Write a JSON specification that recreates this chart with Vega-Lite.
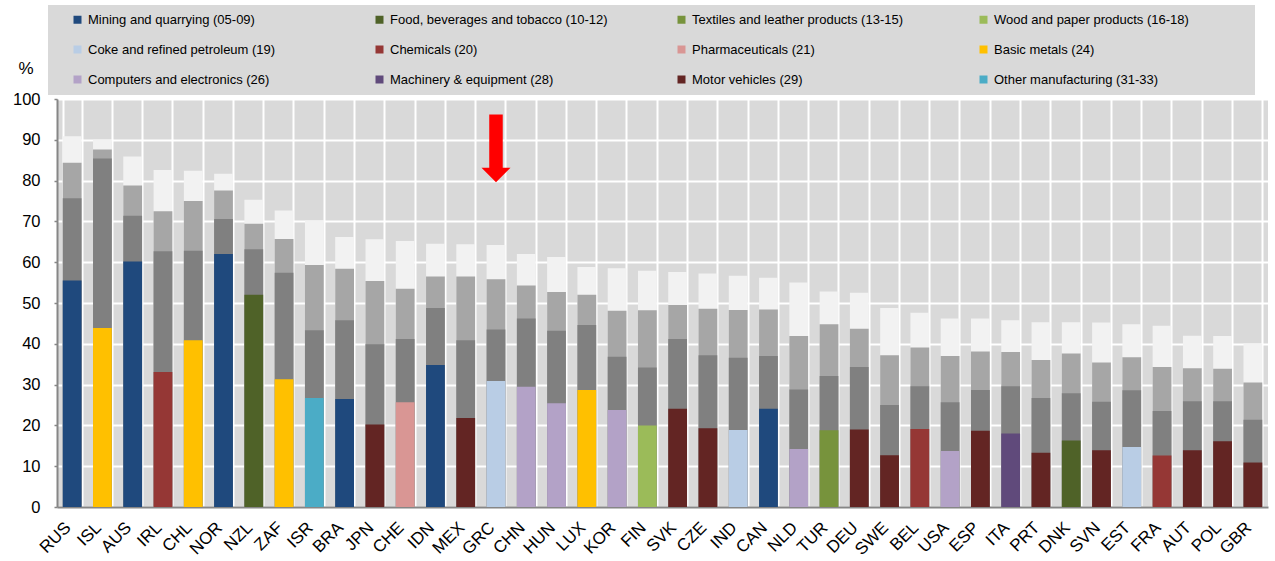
{
  "$schema": "https://vega.github.io/schema/vega-lite/v6.json",
  "width": 1211,
  "height": 408,
  "autosize": {"type": "none"},
  "padding": {"left": 57, "right": 7, "top": 99, "bottom": 54},
  "background": "white",
  "config": {
    "font": "Liberation Sans",
    "view": {"fill": "#D9D9D9", "stroke": null},
    "axisX": {
      "domainColor": "#868686", "domainWidth": 2, "ticks": false,
      "labelAngle": -45, "labelFontSize": 17, "labelColor": "#000000", "labelPadding": 12, "labelOffset": -10,
      "grid": true, "gridColor": "#FFFFFF", "gridWidth": 2, "tickBand": "extent", "title": null
    },
    "axisY": {
      "domainColor": "#868686", "domainWidth": 2, "tickColor": "#868686", "tickSize": 3, "tickWidth": 1.5,
      "labelFontSize": 16.5, "labelColor": "#000000", "labelPadding": 14, "tickCount": 10,
      "grid": true, "gridColor": "#FFFFFF", "gridWidth": 2,
      "titleAngle": 0, "titleX": -31.5, "titleY": -30.5, "titleFontSize": 17,
      "titleFontWeight": "normal", "titleAlign": "center", "titleBaseline": "middle", "titleColor": "#000000"
    },
    "legend": {
      "orient": "none", "legendX": -9, "legendY": -94, "columns": 4, "direction": "horizontal", "gridAlign": "all",
      "columnPadding": 52, "rowPadding": 16, "symbolType": "square", "symbolSize": 64,
      "symbolOffset": 15, "symbolStrokeWidth": 0, "labelFontSize": 13, "labelColor": "#000000",
      "labelOffset": 4, "labelLimit": 400, "padding": 8, "fillColor": "#D9D9D9",
      "titleOrient": "right", "titlePadding": 58, "titleFontSize": 13
    }
  },
  "data": {"values": [
    {"c": "RUS", "s": "Mining and quarrying (05-09)", "t1": 55.5, "t2": 75.7, "t3": 84.4, "t4": 90.9},
    {"c": "ISL", "s": "Basic metals (24)", "t1": 43.9, "t2": 85.4, "t3": 87.6, "t4": 90.0},
    {"c": "AUS", "s": "Mining and quarrying (05-09)", "t1": 60.2, "t2": 71.4, "t3": 78.8, "t4": 85.9},
    {"c": "IRL", "s": "Chemicals (20)", "t1": 33.1, "t2": 62.7, "t3": 72.5, "t4": 82.6},
    {"c": "CHL", "s": "Basic metals (24)", "t1": 40.9, "t2": 62.8, "t3": 75.0, "t4": 82.4},
    {"c": "NOR", "s": "Mining and quarrying (05-09)", "t1": 62.0, "t2": 70.6, "t3": 77.6, "t4": 81.7},
    {"c": "NZL", "s": "Food, beverages and tobacco (10-12)", "t1": 52.0, "t2": 63.2, "t3": 69.4, "t4": 75.3},
    {"c": "ZAF", "s": "Basic metals (24)", "t1": 31.3, "t2": 57.4, "t3": 65.7, "t4": 72.7},
    {"c": "ISR", "s": "Other manufacturing (31-33)", "t1": 26.7, "t2": 43.3, "t3": 59.3, "t4": 70.2},
    {"c": "BRA", "s": "Mining and quarrying (05-09)", "t1": 26.5, "t2": 45.8, "t3": 58.4, "t4": 66.2},
    {"c": "JPN", "s": "Motor vehicles (29)", "t1": 20.2, "t2": 39.9, "t3": 55.4, "t4": 65.6},
    {"c": "CHE", "s": "Pharmaceuticals (21)", "t1": 25.7, "t2": 41.2, "t3": 53.5, "t4": 65.2},
    {"c": "IDN", "s": "Mining and quarrying (05-09)", "t1": 34.8, "t2": 48.8, "t3": 56.5, "t4": 64.5},
    {"c": "MEX", "s": "Motor vehicles (29)", "t1": 21.8, "t2": 40.9, "t3": 56.5, "t4": 64.4},
    {"c": "GRC", "s": "Coke and refined petroleum (19)", "t1": 30.9, "t2": 43.5, "t3": 55.8, "t4": 64.2},
    {"c": "CHN", "s": "Computers and electronics (26)", "t1": 29.5, "t2": 46.2, "t3": 54.3, "t4": 62.0},
    {"c": "HUN", "s": "Computers and electronics (26)", "t1": 25.4, "t2": 43.2, "t3": 52.7, "t4": 61.3},
    {"c": "LUX", "s": "Basic metals (24)", "t1": 28.7, "t2": 44.6, "t3": 52.0, "t4": 58.8},
    {"c": "KOR", "s": "Computers and electronics (26)", "t1": 23.8, "t2": 36.8, "t3": 48.1, "t4": 58.5},
    {"c": "FIN", "s": "Wood and paper products (16-18)", "t1": 20.0, "t2": 34.2, "t3": 48.2, "t4": 57.9},
    {"c": "SVK", "s": "Motor vehicles (29)", "t1": 24.1, "t2": 41.2, "t3": 49.5, "t4": 57.6},
    {"c": "CZE", "s": "Motor vehicles (29)", "t1": 19.3, "t2": 37.2, "t3": 48.6, "t4": 57.2},
    {"c": "IND", "s": "Coke and refined petroleum (19)", "t1": 18.9, "t2": 36.6, "t3": 48.3, "t4": 56.7},
    {"c": "CAN", "s": "Mining and quarrying (05-09)", "t1": 24.1, "t2": 37.0, "t3": 48.4, "t4": 56.2},
    {"c": "NLD", "s": "Computers and electronics (26)", "t1": 14.2, "t2": 28.8, "t3": 41.9, "t4": 55.0},
    {"c": "TUR", "s": "Textiles and leather products (13-15)", "t1": 18.8, "t2": 32.1, "t3": 44.8, "t4": 52.8},
    {"c": "DEU", "s": "Motor vehicles (29)", "t1": 19.0, "t2": 34.3, "t3": 43.7, "t4": 52.5},
    {"c": "SWE", "s": "Motor vehicles (29)", "t1": 12.7, "t2": 25.0, "t3": 37.2, "t4": 48.8},
    {"c": "BEL", "s": "Chemicals (20)", "t1": 19.1, "t2": 29.6, "t3": 39.1, "t4": 47.6},
    {"c": "USA", "s": "Computers and electronics (26)", "t1": 13.7, "t2": 25.7, "t3": 37.0, "t4": 46.2},
    {"c": "ESP", "s": "Motor vehicles (29)", "t1": 18.7, "t2": 28.7, "t3": 38.1, "t4": 46.2},
    {"c": "ITA", "s": "Machinery & equipment (28)", "t1": 18.0, "t2": 29.6, "t3": 38.0, "t4": 45.8},
    {"c": "PRT", "s": "Motor vehicles (29)", "t1": 13.3, "t2": 26.7, "t3": 36.0, "t4": 45.3},
    {"c": "DNK", "s": "Food, beverages and tobacco (10-12)", "t1": 16.3, "t2": 27.9, "t3": 37.6, "t4": 45.3},
    {"c": "SVN", "s": "Motor vehicles (29)", "t1": 13.9, "t2": 25.8, "t3": 35.4, "t4": 45.2},
    {"c": "EST", "s": "Coke and refined petroleum (19)", "t1": 14.7, "t2": 28.6, "t3": 36.7, "t4": 44.8},
    {"c": "FRA", "s": "Chemicals (20)", "t1": 12.6, "t2": 23.5, "t3": 34.3, "t4": 44.4},
    {"c": "AUT", "s": "Motor vehicles (29)", "t1": 13.9, "t2": 25.9, "t3": 34.0, "t4": 42.0},
    {"c": "POL", "s": "Motor vehicles (29)", "t1": 16.1, "t2": 25.9, "t3": 33.9, "t4": 41.9},
    {"c": "GBR", "s": "Motor vehicles (29)", "t1": 10.9, "t2": 21.4, "t3": 30.5, "t4": 40.1}
  ]},
  "encoding": {
    "x": {"field": "c", "type": "nominal", "sort": null,
          "scale": {"paddingInner": 0.38, "paddingOuter": 0.19}}
  },
  "layer": [
    {
      "mark": {"type": "bar", "color": "#F2F2F2"},
      "encoding": {
        "y": {"field": "t4", "type": "quantitative", "title": "%",
              "scale": {"domain": [0, 100], "nice": false}}
      }
    },
    {
      "mark": {"type": "bar", "color": "#A6A6A6"},
      "encoding": {"y": {"field": "t3", "type": "quantitative", "title": "%"}}
    },
    {
      "mark": {"type": "bar", "color": "#808080"},
      "encoding": {"y": {"field": "t2", "type": "quantitative", "title": "%"}}
    },
    {
      "mark": {"type": "bar"},
      "encoding": {
        "y": {"field": "t1", "type": "quantitative", "title": "%"},
        "color": {"field": "s", "type": "nominal",
          "scale": {
            "domain": ["Mining and quarrying (05-09)", "Food, beverages and tobacco (10-12)", "Textiles and leather products (13-15)", "Wood and paper products (16-18)", "Coke and refined petroleum (19)", "Chemicals (20)", "Pharmaceuticals (21)", "Basic metals (24)", "Computers and electronics (26)", "Machinery & equipment (28)", "Motor vehicles (29)", "Other manufacturing (31-33)"],
            "range": ["#1F497D", "#4F6228", "#77933C", "#9BBB59", "#B9CDE5", "#953735", "#D99694", "#FFC000", "#B3A2C7", "#604A7B", "#632523", "#4BACC6"]
          },
          "legend": {"title": "\u2003"}
        }
      }
    },
    {
      "data": {"values": [{"c": "GRC", "top": 96.2, "bot": 82.5, "head": 81.4}]},
      "mark": {"type": "rule", "color": "#FF0000", "strokeWidth": 13.5, "strokeCap": "butt"},
      "encoding": {
        "y": {"field": "top", "type": "quantitative", "title": "%"},
        "y2": {"field": "bot"}
      }
    },
    {
      "data": {"values": [{"c": "GRC", "top": 96.2, "bot": 82.5, "head": 81.4}]},
      "mark": {"type": "point", "shape": "M-1,-0.5L1,-0.5L0,0.5Z", "filled": true, "color": "#FF0000", "opacity": 1, "size": 841, "strokeWidth": 0},
      "encoding": {
        "y": {"field": "head", "type": "quantitative", "title": "%"}
      }
    }
  ]
}
